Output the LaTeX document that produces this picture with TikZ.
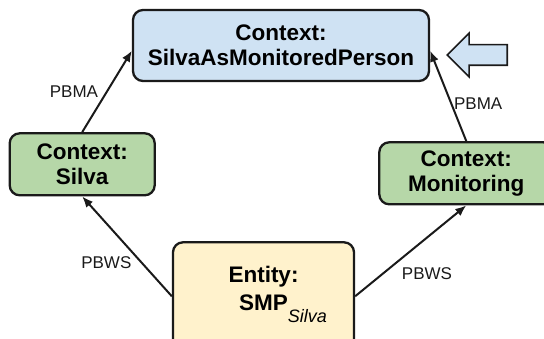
\documentclass[tikz,border=0pt]{standalone}
\usepackage{fontspec}
\setmainfont{Liberation Sans}
\usetikzlibrary{positioning, arrows.meta, shapes.arrows}
\definecolor{ctx-blue}{HTML}{CFE2F3}
\definecolor{ctx-green}{HTML}{B6D7A8}
\definecolor{ent-yellow}{HTML}{FFF2CC}
\definecolor{line-black}{HTML}{1A1A1A}

\begin{document}
\begin{tikzpicture}[node distance=50pt,
	box/.style={draw=line-black, line width=2.3pt, rounded corners=10pt, align=center, inner sep=0pt, font=\fontsize{22.5}{25}\selectfont\bfseries},
	rel/.style={font=\fontsize{17}{20}\selectfont, text=line-black, inner sep=1pt},
	link/.style={-{Latex[length=11pt, width=9pt]}, line width=2pt, draw=line-black}]
	\useasboundingbox (0,0) rectangle (544pt,-339pt);
	\node[box, fill=ctx-blue, minimum width=296pt, minimum height=71pt] (sama) at (281pt,-45.5pt) {Context:\\SilvaAsMonitoredPerson};
	\node[box, fill=ctx-green, minimum width=145pt, minimum height=62pt, below left=50pt and -24pt of sama.south west] (silva) {Context:\\Silva};
	\node[box, fill=ctx-green, minimum width=174pt, minimum height=62pt, below right=59pt and -52pt of sama.south east] (monitoring) {Context:\\Monitoring};
	\node[box, fill=ent-yellow, minimum width=181pt, minimum height=108pt, text depth=16pt, below=159pt of sama, xshift=-17.5pt, font=\fontsize{22.5}{28}\selectfont\bfseries] (smp) {Entity:\\SMP\rlap{\smash{\raisebox{-12pt}{\normalfont\itshape\fontsize{18}{20}\selectfont Silva}}}};
	\node[single arrow, draw=line-black, fill=ctx-blue, line width=1.6pt, shape border rotate=180, minimum height=60pt, inner xsep=0pt, inner ysep=9.5pt, single arrow head extend=11.5pt, right=16pt of sama.east, yshift=-9.5pt, anchor=tip] (pointer) {};
	\draw
	(silva.north) edge[link] node[rel, left=7pt] {PBMA} (sama.182)
	(monitoring.north) edge[link] node[rel, pos=0.42, right=1pt] {PBMA} (sama.358)
	(smp.west) edge[link] node[rel, pos=0.34, left=8pt] {PBWS} (silva.south)
	(smp.east) edge[link] node[rel, pos=0.25, right=17pt] {PBWS} (monitoring.south);
\end{tikzpicture}
\end{document}
